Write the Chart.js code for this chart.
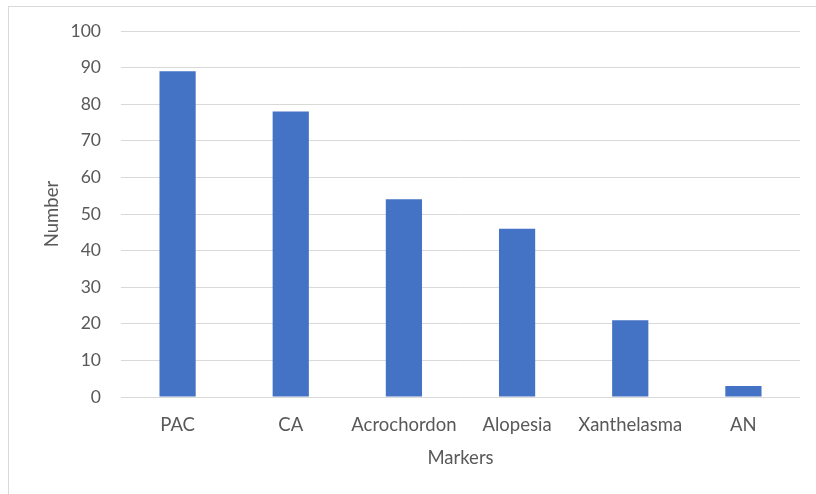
<!DOCTYPE html>
<html>
<head>
<meta charset="utf-8">
<script src="https://cdn.jsdelivr.net/npm/chart.js@4/dist/chart.umd.min.js"></script>
<style>
html,body{margin:0;padding:0;background:#fff;overflow:hidden;}
#frame{position:absolute;left:8px;top:6px;width:840px;height:520px;border:1px solid #d9d9d9;}
#wrap{position:absolute;left:0;top:0;width:816px;height:494px;}
</style>
</head>
<body>
<div id="frame"></div>
<div id="wrap"><canvas id="c" width="816" height="494"></canvas></div>
<script>
const categories = ["PAC", "CA", "Acrochordon", "Alopesia", "Xanthelasma", "AN"];
const numbers = [89, 78, 54, 46, 21, 3];
const yTicks = [0, 10, 20, 30, 40, 50, 60, 70, 80, 90, 100];

const FONT = "Lato";
new Chart(document.getElementById('c'), {
  type: 'bar',
  data: {
    labels: categories,
    datasets: [{
      label: 'Number',
      data: numbers,
      backgroundColor: '#4472C4',
      borderWidth: 0,
      barPercentage: 0.32,
      categoryPercentage: 1.0
    }]
  },
  options: {
    responsive: false,
    animation: false,
    devicePixelRatio: 1,
    layout: { padding: { left: 37, right: 16, top: 31, bottom: 20 } },
    plugins: { legend: { display: false }, tooltip: { enabled: false } },
    scales: {
      x: {
        grid: { display: false },
        border: { display: false },
        ticks: { color: '#595959', font: { family: FONT, size: 18.5 }, padding: 9, maxRotation: 0, autoSkip: false },
        title: { display: true, text: 'Markers', color: '#595959', font: { family: FONT, size: 18.5 }, padding: { top: 0, bottom: 5 } },
        afterFit: s => { s.height = 77; }
      },
      y: {
        min: 0, max: 100,
        afterBuildTicks: s => { s.ticks = yTicks.map(v => ({ value: v })); },
        grid: { color: '#d9d9d9', lineWidth: 1, drawTicks: false },
        border: { display: false },
        ticks: { color: '#595959', font: { family: FONT, size: 17.5 }, padding: 20 },
        title: { display: true, text: 'Number', color: '#595959', font: { family: FONT, size: 18.5 }, padding: { top: 4, bottom: 0 } },
        afterFit: s => { s.width = 84; }
      }
    }
  }
});
</script>
</body>
</html>
